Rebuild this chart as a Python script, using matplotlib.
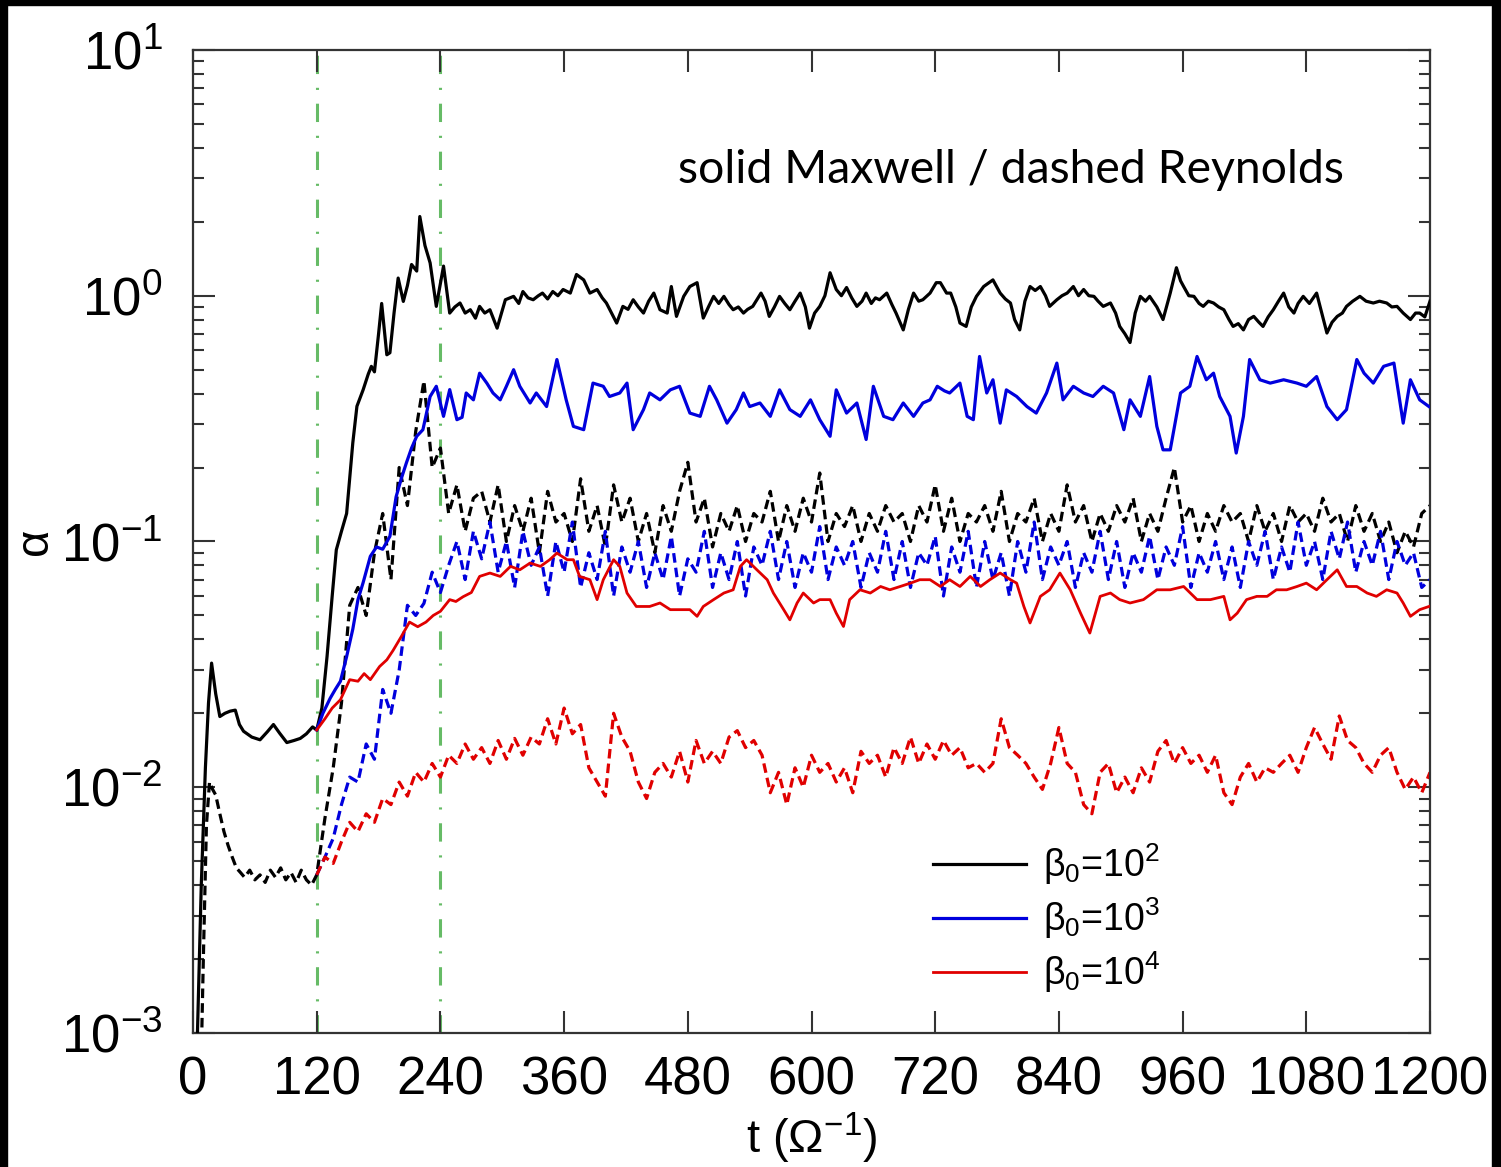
import numpy as np
import matplotlib
matplotlib.use('Agg')
import matplotlib.pyplot as plt
from matplotlib.patches import Rectangle
from matplotlib.ticker import LogLocator, NullLocator, NullFormatter

plt.rcParams['font.family'] = ['Liberation Sans', 'DejaVu Sans']
plt.rcParams['mathtext.fontset'] = 'custom'
plt.rcParams['mathtext.rm'] = 'Liberation Sans'
plt.rcParams['mathtext.it'] = 'Liberation Sans:italic'
plt.rcParams['mathtext.bf'] = 'Liberation Sans:bold'

# ---- Maxwell stress (solid lines) ----
# beta0 = 1e2
t_max_b2 = [4, 8, 12, 15, 18, 22, 26, 31, 36, 41,
            45, 49, 57, 65, 72, 78, 84, 91, 98, 104,
            110, 116, 120, 125, 130, 135, 139, 144, 149, 152,
            155, 159, 165, 170, 173, 176, 180, 183, 188, 191,
            195, 199, 204, 208, 212, 217, 220, 225, 230, 236,
            243, 249, 254, 259, 264, 269, 274, 278, 283, 288,
            295, 303, 311, 316, 320, 325, 330, 335, 339, 344,
            349, 354, 359, 366, 372, 379, 385, 392, 397, 401,
            406, 411, 417, 422, 427, 432, 437, 442, 447, 453,
            460, 464, 469, 476, 482, 489, 495, 500, 505, 510,
            515, 520, 524, 529, 534, 538, 543, 551, 555, 559,
            564, 569, 574, 579, 584, 589, 594, 598, 603, 608,
            613, 618, 624, 629, 634, 639, 644, 649, 653, 658,
            662, 666, 673, 678, 682, 689, 694, 699, 704, 708,
            715, 721, 725, 731, 735, 740, 744, 750, 755, 760,
            767, 776, 783, 788, 793, 797, 802, 807, 812, 817,
            822, 827, 831, 838, 843, 848, 854, 859, 864, 869,
            874, 878, 883, 890, 895, 899, 904, 909, 914, 919,
            924, 928, 935, 941, 948, 954, 958, 961, 966, 971,
            976, 980, 985, 990, 995, 1000, 1005, 1009, 1014, 1019,
            1024, 1029, 1034, 1038, 1043, 1048, 1053, 1058, 1063, 1068,
            1072, 1077, 1083, 1090, 1095, 1100, 1105, 1110, 1115, 1119,
            1125, 1132, 1138, 1145, 1151, 1158, 1163, 1168, 1174, 1181,
            1186, 1190, 1195, 1200]
a_max_b2 = [0.0009, 0.004, 0.012, 0.022, 0.032, 0.024, 0.0194, 0.020, 0.0204, 0.0206,
            0.018, 0.0169, 0.016, 0.0156, 0.0168, 0.018, 0.0166, 0.0152, 0.0155, 0.0158,
            0.0165, 0.0176, 0.0171, 0.021, 0.034, 0.060, 0.0925, 0.11, 0.13, 0.18,
            0.252, 0.355, 0.414, 0.48, 0.516, 0.49, 0.70, 0.93, 0.575, 0.586,
            0.85, 1.18, 0.948, 1.1, 1.34, 1.26, 2.1, 1.6, 1.36, 0.905,
            1.32, 0.85, 0.9, 0.934, 0.85, 0.877, 0.81, 0.905, 0.85, 0.877,
            0.738, 0.963, 0.994, 0.93, 1.04, 0.98, 0.963, 1.0, 1.025, 0.97,
            1.04, 1.0, 1.06, 1.025, 1.22, 1.16, 1.025, 1.06, 0.98, 0.934,
            0.85, 0.774, 0.905, 0.88, 0.963, 0.9, 0.85, 0.95, 1.025, 0.877,
            0.85, 1.09, 0.824, 0.994, 1.09, 1.13, 0.811, 0.9, 0.994, 0.93,
            0.994, 0.92, 0.877, 0.9, 0.85, 0.88, 0.905, 1.025, 0.95, 0.824,
            0.9, 0.994, 0.93, 0.877, 0.95, 1.025, 0.9, 0.738, 0.85, 0.905,
            1.0, 1.24, 1.06, 1.0, 1.08, 0.98, 0.905, 0.95, 1.025, 0.93,
            0.98, 0.963, 1.025, 0.92, 0.85, 0.726, 0.88, 1.025, 0.95, 0.963,
            1.025, 1.13, 1.13, 1.025, 1.025, 0.9, 0.774, 0.75, 0.9, 0.994,
            1.09, 1.16, 1.025, 0.97, 0.934, 0.8, 0.726, 0.95, 1.09, 1.05,
            1.09, 1.0, 0.905, 0.963, 1.0, 1.025, 1.09, 1.0, 1.06, 1.0,
            0.994, 0.95, 0.905, 0.934, 0.85, 0.75, 0.7, 0.645, 0.85, 0.994,
            0.95, 0.994, 0.9, 0.80, 1.025, 1.30, 1.15, 1.09, 1.0, 0.994,
            0.93, 0.905, 0.95, 0.934, 0.9, 0.877, 0.8, 0.75, 0.77, 0.726,
            0.8, 0.824, 0.78, 0.75, 0.82, 0.877, 0.95, 1.025, 0.9, 0.85,
            0.93, 0.994, 0.93, 1.025, 0.85, 0.705, 0.78, 0.824, 0.85, 0.905,
            0.95, 0.994, 0.95, 0.934, 0.95, 0.934, 0.9, 0.905, 0.85, 0.80,
            0.85, 0.85, 0.82, 0.95]

# beta0 = 1e3
t_max_b3 = [120, 126, 133, 138, 143, 149, 155, 160, 165, 172,
            178, 184, 191, 197, 202, 207, 212, 217, 223, 230,
            236, 243, 249, 256, 261, 265, 272, 278, 285, 291,
            298, 304, 311, 317, 327, 333, 343, 353, 362, 369,
            379, 388, 398, 404, 414, 421, 427, 437, 443, 453,
            463, 472, 482, 492, 501, 508, 518, 527, 534, 540,
            550, 560, 569, 579, 589, 599, 608, 618, 624, 634,
            644, 653, 660, 670, 679, 689, 699, 708, 715, 722,
            729, 734, 744, 751, 757, 763, 770, 776, 783, 789,
            799, 809, 818, 828, 838, 844, 854, 864, 873, 883,
            893, 903, 909, 919, 928, 935, 941, 948, 958, 967,
            974, 983, 990, 996, 1006, 1012, 1019, 1025, 1035, 1045,
            1058, 1071, 1080, 1090, 1100, 1110, 1119, 1129, 1136, 1145,
            1155, 1165, 1174, 1181, 1190, 1199]
a_max_b3 = [0.0171, 0.02, 0.023, 0.025, 0.027, 0.034, 0.044, 0.058, 0.068, 0.087,
            0.095, 0.093, 0.105, 0.152, 0.18, 0.209, 0.24, 0.268, 0.285, 0.389,
            0.428, 0.323, 0.415, 0.313, 0.32, 0.402, 0.377, 0.484, 0.441, 0.402,
            0.377, 0.428, 0.50, 0.428, 0.366, 0.402, 0.354, 0.55, 0.377, 0.294,
            0.285, 0.441, 0.428, 0.389, 0.402, 0.441, 0.285, 0.344, 0.402, 0.377,
            0.414, 0.428, 0.333, 0.323, 0.428, 0.377, 0.303, 0.344, 0.402, 0.354,
            0.366, 0.323, 0.414, 0.344, 0.323, 0.377, 0.313, 0.268, 0.414, 0.333,
            0.366, 0.26, 0.428, 0.323, 0.313, 0.366, 0.323, 0.366, 0.377, 0.428,
            0.41, 0.402, 0.441, 0.323, 0.313, 0.566, 0.402, 0.455, 0.303, 0.414,
            0.389, 0.354, 0.333, 0.402, 0.532, 0.377, 0.428, 0.402, 0.389, 0.428,
            0.402, 0.285, 0.377, 0.323, 0.469, 0.294, 0.236, 0.236, 0.402, 0.428,
            0.566, 0.455, 0.484, 0.389, 0.323, 0.229, 0.323, 0.55, 0.455, 0.441,
            0.455, 0.441, 0.428, 0.469, 0.354, 0.313, 0.344, 0.55, 0.484, 0.441,
            0.516, 0.532, 0.303, 0.455, 0.377, 0.354]

# beta0 = 1e4
t_max_b4 = [120, 128, 135, 143, 152, 160, 166, 172, 181, 188,
            194, 202, 210, 218, 226, 233, 240, 249, 255, 262,
            270, 278, 288, 298, 308, 317, 327, 337, 346, 353,
            363, 369, 375, 385, 392, 398, 408, 414, 421, 430,
            443, 453, 463, 472, 482, 489, 495, 505, 515, 524,
            531, 537, 547, 557, 563, 573, 579, 586, 592, 602,
            608, 618, 624, 631, 637, 647, 657, 667, 676, 686,
            696, 705, 715, 725, 734, 744, 754, 764, 773, 783,
            793, 799, 806, 812, 822, 831, 841, 851, 861, 870,
            880, 890, 899, 909, 922, 935, 948, 961, 974, 987,
            1000, 1006, 1013, 1022, 1032, 1042, 1051, 1061, 1071, 1080,
            1090, 1100, 1110, 1119, 1129, 1139, 1148, 1158, 1168, 1174,
            1181, 1190, 1199]
a_max_b4 = [0.0171, 0.019, 0.021, 0.0227, 0.0274, 0.027, 0.029, 0.0274, 0.031, 0.033,
            0.036, 0.041, 0.047, 0.045, 0.047, 0.05, 0.052, 0.058, 0.057, 0.0596,
            0.062, 0.0721, 0.0744, 0.0721, 0.0792, 0.0767, 0.0817, 0.0792, 0.0843, 0.0897,
            0.0843, 0.0843, 0.0721, 0.0699, 0.058, 0.0699, 0.0843, 0.0792, 0.0617, 0.0544,
            0.0544, 0.0562, 0.0528, 0.0528, 0.0528, 0.0496, 0.0544, 0.058, 0.0617, 0.0636,
            0.0792, 0.0843, 0.0767, 0.0699, 0.0617, 0.0528, 0.048, 0.0562, 0.0617, 0.0562,
            0.058, 0.058, 0.0511, 0.0451, 0.058, 0.0636, 0.0617, 0.0656, 0.0636, 0.0656,
            0.0677, 0.0699, 0.0699, 0.0656, 0.0699, 0.0656, 0.0721, 0.0656, 0.0699, 0.0744,
            0.0699, 0.0677, 0.0544, 0.0466, 0.0598, 0.0636, 0.0744, 0.0636, 0.0511, 0.0424,
            0.0598, 0.0617, 0.058, 0.0562, 0.058, 0.0636, 0.0636, 0.0656, 0.058, 0.058,
            0.0598, 0.048, 0.0511, 0.058, 0.0598, 0.0598, 0.0636, 0.0636, 0.0656, 0.0677,
            0.0636, 0.0699, 0.0767, 0.0656, 0.0656, 0.0617, 0.0598, 0.0636, 0.0617, 0.0562,
            0.0496, 0.0528, 0.0544]

# ---- Reynolds stress (dashed lines) ----
# early phase of the beta0 = 1e2 run
t_rey_early = [8, 10, 13, 16, 19, 22, 26, 30, 34, 38, 42, 46, 50, 55,
               60, 65, 70, 75, 80, 85, 90, 95, 100, 105, 110, 115]
a_rey_b2_early = [0.0008, 0.002, 0.007, 0.0105, 0.0098, 0.0093, 0.0078, 0.0066,
                  0.0058, 0.0052, 0.0047, 0.0045, 0.0043, 0.0046, 0.0042, 0.0044,
                  0.0041, 0.0046, 0.0043, 0.0047, 0.0042, 0.0045, 0.0041, 0.0046,
                  0.0042, 0.0040]

t_rey = np.arange(120, 1201, 8)
a_rey_b2 = [0.0044, 0.0075, 0.012, 0.022, 0.055, 0.065, 0.05, 0.09, 0.13, 0.07,
            0.2, 0.14, 0.28, 0.45, 0.2, 0.24, 0.13, 0.17, 0.11, 0.15,
            0.16, 0.12, 0.17, 0.1, 0.14, 0.11, 0.15, 0.09, 0.16, 0.12,
            0.13, 0.1, 0.18, 0.11, 0.14, 0.095, 0.17, 0.12, 0.15, 0.1,
            0.13, 0.09, 0.14, 0.11, 0.16, 0.21, 0.12, 0.15, 0.095, 0.13,
            0.11, 0.14, 0.1, 0.13, 0.12, 0.16, 0.1, 0.14, 0.11, 0.15,
            0.12, 0.19, 0.1, 0.13, 0.115, 0.14, 0.1, 0.13, 0.11, 0.14,
            0.12, 0.13, 0.1, 0.14, 0.12, 0.17, 0.11, 0.15, 0.1, 0.13,
            0.12, 0.14, 0.11, 0.16, 0.1, 0.13, 0.12, 0.15, 0.1, 0.13,
            0.11, 0.17, 0.12, 0.14, 0.1, 0.13, 0.11, 0.14, 0.12, 0.15,
            0.1, 0.13, 0.11, 0.15, 0.2, 0.12, 0.14, 0.1, 0.13, 0.11,
            0.14, 0.12, 0.13, 0.1, 0.14, 0.11, 0.13, 0.1, 0.14, 0.12,
            0.13, 0.11, 0.15, 0.12, 0.13, 0.1, 0.14, 0.11, 0.13, 0.1,
            0.12, 0.09, 0.11, 0.095, 0.13, 0.14]
a_rey_b3 = [0.0044, 0.0052, 0.0062, 0.0085, 0.011, 0.0105, 0.015, 0.013, 0.025, 0.02,
            0.03, 0.055, 0.05, 0.056, 0.075, 0.062, 0.08, 0.1, 0.07, 0.11,
            0.085, 0.12, 0.075, 0.1, 0.065, 0.11, 0.08, 0.095, 0.06, 0.1,
            0.075, 0.12, 0.065, 0.09, 0.07, 0.11, 0.06, 0.095, 0.075, 0.1,
            0.065, 0.09, 0.07, 0.105, 0.06, 0.085, 0.075, 0.11, 0.065, 0.09,
            0.07, 0.1, 0.06, 0.095, 0.08, 0.11, 0.07, 0.1, 0.065, 0.09,
            0.075, 0.115, 0.07, 0.095, 0.08, 0.1, 0.065, 0.09, 0.075, 0.11,
            0.07, 0.1, 0.065, 0.09, 0.08, 0.105, 0.06, 0.095, 0.075, 0.11,
            0.065, 0.1, 0.07, 0.09, 0.06, 0.1, 0.075, 0.12, 0.07, 0.095,
            0.08, 0.1, 0.065, 0.09, 0.075, 0.11, 0.07, 0.1, 0.065, 0.09,
            0.075, 0.105, 0.07, 0.095, 0.08, 0.115, 0.065, 0.09, 0.075, 0.1,
            0.07, 0.095, 0.065, 0.1, 0.08, 0.11, 0.07, 0.095, 0.075, 0.12,
            0.08, 0.1, 0.07, 0.11, 0.085, 0.12, 0.075, 0.1, 0.08, 0.11,
            0.07, 0.1, 0.08, 0.09, 0.065, 0.07]
a_rey_b4 = [0.0044, 0.0052, 0.0049, 0.006, 0.0072, 0.0066, 0.0078, 0.0072, 0.009, 0.0085,
            0.0105, 0.0092, 0.0115, 0.0105, 0.0125, 0.011, 0.0135, 0.0125, 0.015, 0.013,
            0.0145, 0.0125, 0.0155, 0.013, 0.0158, 0.0135, 0.016, 0.015, 0.019, 0.015,
            0.021, 0.0165, 0.018, 0.012, 0.0105, 0.0092, 0.02, 0.016, 0.014, 0.0105,
            0.009, 0.0115, 0.0125, 0.011, 0.014, 0.0105, 0.0155, 0.0125, 0.014, 0.0125,
            0.016, 0.017, 0.0145, 0.0155, 0.0135, 0.0095, 0.0115, 0.0085, 0.012, 0.01,
            0.0135, 0.0115, 0.0125, 0.0105, 0.012, 0.0095, 0.014, 0.0125, 0.0135, 0.011,
            0.0145, 0.0125, 0.016, 0.0125, 0.015, 0.013, 0.0155, 0.0135, 0.0145, 0.012,
            0.0125, 0.0115, 0.0125, 0.019, 0.0145, 0.0135, 0.0125, 0.011, 0.0098, 0.0125,
            0.0175, 0.0125, 0.0115, 0.0085, 0.0078, 0.0115, 0.0125, 0.0095, 0.011, 0.0095,
            0.012, 0.0105, 0.014, 0.0155, 0.0125, 0.0145, 0.0125, 0.0135, 0.0115, 0.0135,
            0.0095, 0.0085, 0.011, 0.0125, 0.0105, 0.012, 0.0115, 0.0125, 0.0135, 0.0115,
            0.0145, 0.0175, 0.015, 0.013, 0.0195, 0.0155, 0.0145, 0.0125, 0.0115, 0.0135,
            0.0145, 0.0115, 0.0098, 0.011, 0.0095, 0.0115]

labels = ['β$_0$=10$^2$', 'β$_0$=10$^3$', 'β$_0$=10$^4$']
colors = ['#000000', '#0000dd', '#e00000']
phase_marks = [120, 240]

fig = plt.figure(figsize=(15.01, 11.67), dpi=100)
ax = fig.add_axes([0.1286, 0.1148, 0.8241, 0.8424])

# green dash-dot phase markers
for tm in phase_marks:
    ax.axvline(tm, color='#66bb66', lw=2.2, linestyle=(0, (6, 4.5, 0.7, 4.5)), zorder=1)

# dashed Reynolds stresses
t_b2_dash = np.concatenate([t_rey_early, t_rey])
a_b2_dash = np.concatenate([a_rey_b2_early, a_rey_b2])
dash = (0, (3, 1.6))
ax.plot(t_b2_dash, a_b2_dash, color=colors[0], lw=2.3, linestyle=dash, zorder=2)
ax.plot(t_rey, a_rey_b3, color=colors[1], lw=2.3, linestyle=dash, zorder=2)
ax.plot(t_rey, a_rey_b4, color=colors[2], lw=2.3, linestyle=dash, zorder=2)

# solid Maxwell stresses
h1, = ax.plot(t_max_b2, a_max_b2, color=colors[0], lw=2.3, label=labels[0], zorder=3)
h2, = ax.plot(t_max_b3, a_max_b3, color=colors[1], lw=2.3, label=labels[1], zorder=3)
h3, = ax.plot(t_max_b4, a_max_b4, color=colors[2], lw=2.0, label=labels[2], zorder=3)

ax.set_yscale('log')
ax.set_xlim(0, 1200)
ax.set_ylim(1e-3, 1e1)
ax.set_xticks(np.arange(0, 1201, 120))
ax.xaxis.set_minor_locator(NullLocator())
ax.yaxis.set_major_locator(LogLocator(base=10, numticks=10))
ax.yaxis.set_minor_locator(LogLocator(base=10, subs=np.arange(2, 10), numticks=20))
ax.yaxis.set_minor_formatter(NullFormatter())

edge = '#333333'
for s in ax.spines.values():
    s.set_linewidth(1.6)
    s.set_color(edge)
ax.tick_params(which='major', direction='in', length=16, width=1.5, color=edge,
               top=True, right=True, labelsize=38)
ax.tick_params(which='minor', direction='in', length=8, width=1.5, color=edge,
               top=False, right=True)
ax.tick_params(axis='x', pad=16)
ax.tick_params(axis='y', pad=22)

ax.set_xlabel('t (Ω$^{-1}$)', fontsize=34, labelpad=4)
ax.set_ylabel('α', fontsize=34, labelpad=3)

ax.legend(handles=[h1, h2, h3], loc='upper left', bbox_to_anchor=(0.598, 0.195),
          frameon=False, fontsize=27, handlelength=2.5, handletextpad=0.45,
          labelspacing=0.22, borderpad=0, borderaxespad=0)

fig.text(678 / 1501, 1 - 183 / 1167, 'solid Maxwell / dashed Reynolds',
         family=['Lato', 'DejaVu Sans'], fontsize=33.4, ha='left', va='baseline')

# black frame strips of the original screenshot
for rect in [(0, 1 - 5 / 1167, 1, 5 / 1167), (0, 0, 7 / 1501, 1),
             (1492 / 1501, 0, 9 / 1501, 1)]:
    fig.add_artist(Rectangle(rect[:2], rect[2], rect[3], transform=fig.transFigure,
                             color='black', zorder=10))

fig.savefig('out.png', dpi=100, facecolor='white')
